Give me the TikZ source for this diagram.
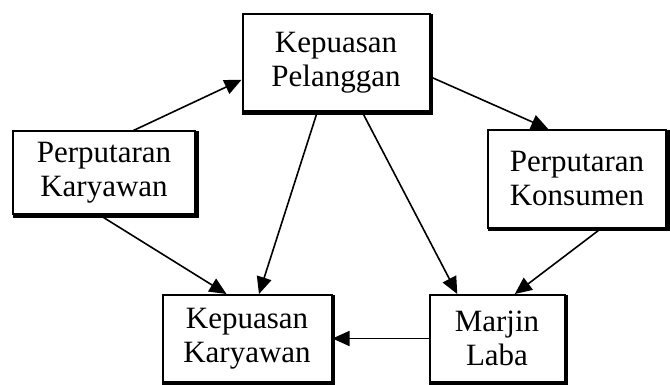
\documentclass[tikz,border=0pt]{standalone}
\usepackage{fontspec}
\setmainfont{Liberation Serif}
\usetikzlibrary{arrows.meta,calc}
\begin{document}
\begin{tikzpicture}[x=1pt,y=-1pt,
  box/.style={draw=black,line width=2pt,fill=white,align=center,
    inner sep=0pt,font=\fontsize{31}{34}\selectfont},
  link/.style={line width=1.6pt,-{Triangle[length=17pt,width=15pt]}},
  shade/.style={line width=2.2pt,line cap=rect}]
\useasboundingbox (0,0) rectangle (670,385);
% boxes
\node[box,minimum width=187pt,minimum height=97pt] (kp) at (336,63) {Kepuasan\\Pelanggan};
\node[box,minimum width=182pt,minimum height=83pt] (pk) at (104,173) {Perputaran\\Karyawan};
\node[box,minimum width=178pt,minimum height=98pt] (pko) at (577,179) {Perputaran\\Konsumen};
\node[box,minimum width=169pt,minimum height=87pt] (kk) at (247,338.5) {Kepuasan\\Karyawan};
\node[box,minimum width=135pt,minimum height=87pt] (ml) at (497,338.5) {Marjin\\Laba};
% heavier right and bottom edges
\foreach \n in {kp,pk,pko,kk,ml}
  \draw[shade] ($(\n.north east)+(1.5,2)$) -- ($(\n.south east)+(1.5,1)$) -- ($(\n.south west)+(2,1)$);
% connectors
\draw[link] ($(pk.north west)!0.66!(pk.north east)$) -- ($(kp.north west)!0.67!(kp.south west)$);
\draw[link] ($(kp.north east)!0.64!(kp.south east)$) -- ($(pko.north west)!0.34!(pko.north east)$);
\draw[link] ($(kp.south west)!0.40!(kp.south east)$) -- ($(kk.north west)!0.57!(kk.north east)$);
\draw[link] ($(kp.south west)!0.64!(kp.south east)$) -- ($(ml.north west)!0.21!(ml.north east)$);
\draw[link] ($(pk.south west)!0.48!(pk.south east)$) -- ($(kk.north west)!0.38!(kk.north east)$);
\draw[link] ($(pko.south west)!0.63!(pko.south east)$) -- ($(ml.north west)!0.63!(ml.north east)$);
\draw[link] (ml.west) -- (kk.east);
\end{tikzpicture}
\end{document}
